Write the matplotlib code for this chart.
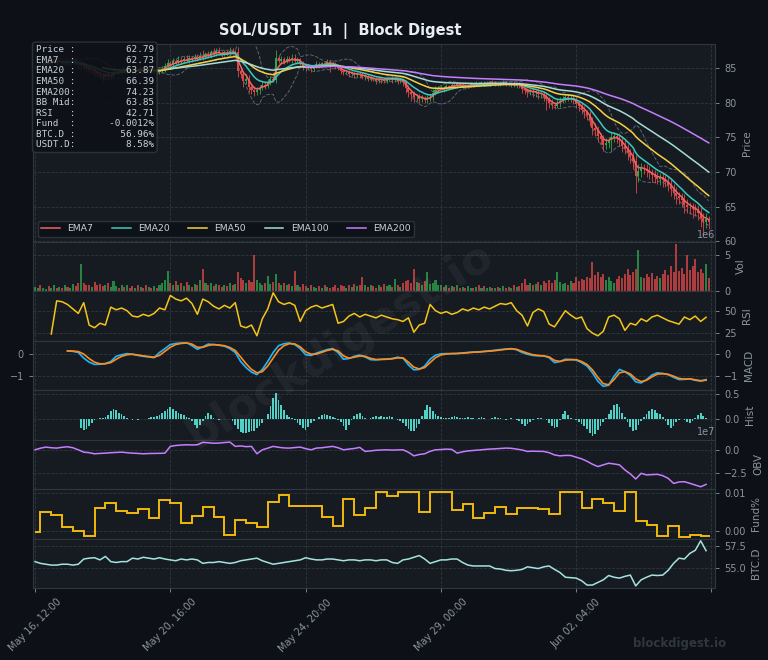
import numpy as np
import pandas as pd
import matplotlib
matplotlib.use("Agg")
import matplotlib.pyplot as plt

nan = float("nan")

# ---- values -------------------------------------------------------------
# 2-hour bars, hour 0 = May 16 12:00
close = [
    85.2, 85.5, 85.3, 85.7, 85.9, 85.6, 86.0, 86.2, 85.9, 86.1,
    85.8, 86.0, 85.7, 85.9, 86.2, 85.8, 85.5, 85.6, 85.2, 85.0,
    84.7, 84.9, 84.4, 84.2, 84.0, 83.7, 84.1, 83.8, 83.9, 84.4,
    84.6, 84.3, 84.7, 84.5, 84.8, 84.6, 84.4, 84.9, 84.7, 85.0,
    84.8, 84.6, 84.9, 84.5, 84.7, 84.4, 84.6, 84.9, 85.3, 85.7,
    85.5, 86.0, 85.8, 86.2, 86.0, 86.4, 86.1, 86.5, 86.3, 86.6,
    86.4, 86.8, 86.6, 87.0, 86.8, 87.3, 87.1, 87.5, 87.2, 87.0,
    87.3, 87.1, 87.5, 87.2, 87.4, 84.6, 84.2, 83.2, 83.5, 82.3,
    81.9, 81.5, 81.8, 82.2, 82.6, 82.4, 83.0, 83.4, 83.3, 86.5,
    86.0, 86.3, 85.9, 86.4, 86.2, 86.5, 86.1, 86.3, 85.8, 85.3,
    85.0, 85.2, 84.9, 85.3, 85.6, 85.4, 85.7, 85.5, 85.9, 85.8,
    85.6, 85.3, 85.0, 84.6, 84.4, 84.5, 84.2, 84.3, 84.0, 84.2,
    84.0, 83.8, 83.9, 83.5, 83.6, 83.4, 83.2, 83.5, 83.3, 83.2,
    83.4, 83.6, 83.3, 83.5, 83.2, 83.4, 83.0, 82.2, 81.5, 81.2,
    80.8, 80.9, 80.5, 80.7, 80.4, 80.6, 80.8, 81.4, 81.9, 82.1,
    82.2, 82.0, 82.4, 82.3, 82.6, 82.4, 82.7, 82.5, 82.6, 82.4,
    82.5, 82.7, 82.6, 82.8, 82.7, 82.9, 82.7, 82.8, 83.0, 82.8,
    82.9, 82.7, 82.8, 83.0, 82.7, 82.6, 82.8, 82.5, 82.7, 82.6,
    82.0, 81.8, 81.5, 81.7, 81.4, 81.6, 81.2, 81.3, 80.9, 80.5,
    80.0, 79.7, 79.6, 79.9, 80.3, 80.6, 80.8, 80.6, 80.7, 80.4,
    79.8, 79.5, 79.0, 78.6, 78.2, 77.5, 76.4, 76.0, 75.2, 74.8,
    73.9, 74.2, 74.6, 75.0, 75.2, 74.9, 74.6, 73.8, 73.3, 72.7,
    72.2, 71.6, 69.4, 70.1, 70.6, 70.4, 70.1, 69.8, 69.5, 69.3,
    69.0, 69.2, 68.8, 68.6, 68.1, 67.6, 67.0, 66.5, 66.2, 66.0,
    65.2, 65.0, 64.9, 64.6, 64.5, 64.1, 63.4, 62.8, 63.2, 62.79,
]

# wick lengths above / below the candle body
up_wick = [
    0.2, 0.3, 0.2, 0.4, 0.3, 0.2, 0.3, 0.4, 0.2, 0.3,
    0.3, 0.2, 0.4, 0.3, 0.2, 0.3, 0.2, 0.5, 0.3, 0.2,
    0.3, 0.2, 0.3, 0.2, 0.4, 0.3, 0.2, 0.3, 0.2, 0.4,
    0.2, 0.3, 0.2, 0.3, 0.2, 0.3, 0.4, 0.2, 0.3, 0.2,
    0.3, 0.2, 0.3, 0.2, 0.3, 0.2, 0.3, 0.4, 0.5, 0.7,
    0.4, 0.5, 0.3, 0.6, 0.4, 0.3, 0.5, 0.4, 0.3, 0.5,
    0.4, 0.6, 0.8, 0.4, 0.5, 0.3, 0.6, 0.4, 0.5, 0.3,
    0.4, 0.3, 0.5, 0.4, 0.3, 0.6, 0.5, 0.4, 0.6, 0.5,
    0.4, 0.6, 0.5, 0.4, 0.6, 0.5, 0.4, 0.5, 0.4, 1.1,
    0.4, 0.5, 0.3, 0.4, 0.3, 0.5, 0.6, 0.3, 0.2, 0.3,
    0.3, 0.2, 0.3, 0.2, 0.4, 0.3, 0.2, 0.3, 0.4, 0.3,
    0.2, 0.3, 0.2, 0.3, 0.2, 0.3, 0.2, 0.3, 0.2, 0.3,
    0.2, 0.4, 0.3, 0.2, 0.3, 0.2, 0.3, 0.2, 0.3, 0.2,
    0.3, 0.2, 0.3, 0.4, 0.2, 0.3, 0.2, 0.3, 0.4, 0.3,
    0.5, 0.4, 0.3, 0.4, 0.3, 0.5, 0.4, 0.6, 0.5, 0.4,
    0.3, 0.2, 0.3, 0.2, 0.3, 0.2, 0.3, 0.2, 0.3, 0.2,
    0.2, 0.3, 0.2, 0.3, 0.2, 0.3, 0.2, 0.3, 0.2, 0.3,
    0.2, 0.3, 0.2, 0.3, 0.2, 0.3, 0.2, 0.3, 0.2, 0.3,
    0.4, 0.3, 0.4, 0.3, 0.5, 0.3, 0.4, 0.3, 0.4, 0.5,
    0.4, 0.5, 0.4, 0.6, 0.5, 0.4, 0.5, 0.4, 0.5, 0.4,
    0.5, 0.4, 0.6, 0.5, 0.4, 0.6, 0.5, 0.7, 0.6, 0.5,
    0.6, 0.7, 0.5, 0.8, 0.6, 0.5, 0.7, 0.6, 0.8, 0.7,
    0.6, 0.8, 0.9, 1.0, 0.7, 0.6, 0.8, 0.7, 0.6, 0.8,
    0.7, 0.6, 0.8, 0.7, 0.6, 0.9, 0.7, 0.8, 0.6, 0.7,
    0.8, 0.9, 0.7, 0.6, 0.8, 0.7, 0.9, 0.6, 0.8, 0.5,
]
dn_wick = [
    0.3, 0.2, 0.3, 0.2, 0.4, 0.3, 0.2, 0.3, 0.4, 0.2,
    0.2, 0.3, 0.2, 0.4, 0.3, 0.2, 0.4, 0.6, 0.3, 0.4,
    0.3, 0.4, 0.5, 0.3, 0.4, 0.6, 0.3, 0.5, 0.4, 0.3,
    0.3, 0.2, 0.3, 0.2, 0.3, 0.2, 0.3, 0.2, 0.3, 0.2,
    0.2, 0.3, 0.2, 0.3, 0.2, 0.3, 0.2, 0.3, 0.4, 0.3,
    0.3, 0.4, 0.3, 0.2, 0.4, 0.3, 0.2, 0.3, 0.4, 0.3,
    0.3, 0.2, 0.4, 0.3, 0.2, 0.3, 0.4, 0.3, 0.2, 0.4,
    0.3, 0.4, 0.3, 0.2, 0.3, 0.8, 0.6, 0.9, 0.5, 0.7,
    0.6, 0.5, 0.4, 0.5, 0.3, 0.4, 0.3, 0.4, 0.3, 0.4,
    0.3, 0.4, 0.3, 0.2, 0.3, 0.4, 0.3, 0.5, 0.4, 0.6,
    0.4, 0.3, 0.5, 0.3, 0.2, 0.3, 0.2, 0.3, 0.2, 1.3,
    0.3, 0.4, 0.3, 0.5, 0.4, 0.3, 0.5, 0.3, 0.4, 0.3,
    0.4, 0.3, 0.5, 0.3, 0.4, 0.3, 0.5, 0.3, 0.4, 0.3,
    0.3, 0.2, 0.4, 0.3, 0.5, 0.3, 0.6, 0.8, 0.7, 0.9,
    0.7, 0.5, 0.6, 0.4, 0.5, 0.4, 0.3, 0.4, 0.3, 0.4,
    0.3, 0.4, 0.3, 0.2, 0.3, 0.2, 0.3, 0.2, 0.3, 0.2,
    0.3, 0.2, 0.3, 0.2, 0.3, 0.2, 0.3, 0.2, 0.3, 0.2,
    0.3, 0.2, 0.3, 0.2, 0.3, 0.2, 0.3, 0.2, 0.3, 0.4,
    0.6, 0.5, 0.7, 0.4, 0.6, 0.5, 0.7, 0.5, 0.6, 1.6,
    0.7, 0.6, 0.5, 0.4, 0.5, 0.4, 0.5, 0.4, 0.5, 0.6,
    0.6, 0.7, 0.6, 0.8, 0.7, 0.9, 1.0, 0.8, 0.9, 0.7,
    0.9, 0.6, 0.8, 1.5, 0.6, 0.7, 0.8, 0.9, 0.7, 1.0,
    0.9, 1.1, 2.5, 0.9, 0.8, 0.7, 0.9, 0.8, 1.0, 0.9,
    0.8, 0.9, 1.0, 0.8, 0.9, 1.1, 0.9, 1.2, 0.8, 1.0,
    1.1, 0.9, 1.0, 1.2, 0.9, 1.0, 1.3, 2.0, 0.9, 1.0,
]

# volume per bar, millions
volume_m = [
    0.6, 0.4, 0.8, 0.5, 0.3, 0.7, 0.5, 0.9, 0.4, 0.6,
    0.5, 0.8, 0.6, 0.4, 1.0, 0.7, 1.2, 3.7, 1.1, 0.8,
    0.9, 0.6, 1.3, 0.8, 1.0, 0.7, 0.9, 1.1, 0.6, 1.4,
    0.7, 0.5, 0.9, 0.6, 0.8, 0.5, 0.7, 0.4, 0.9, 0.6,
    0.5, 0.8, 0.6, 0.4, 0.7, 0.5, 0.9, 1.1, 1.5, 2.8,
    1.2, 0.9, 1.4, 0.8, 1.1, 0.7, 1.3, 0.9, 0.6, 1.0,
    0.8, 1.6, 3.0, 1.2, 0.9, 1.1, 0.7, 1.0, 0.8, 0.6,
    0.9, 0.7, 1.1, 0.8, 1.0, 2.7, 1.8, 1.5, 1.2, 1.6,
    1.3, 4.9, 1.6, 1.2, 0.9, 1.1, 2.1, 1.0, 1.3, 2.4,
    1.2, 0.9, 1.1, 0.8, 1.0, 0.7, 2.8, 0.9, 0.6, 1.0,
    0.7, 0.5, 0.8, 0.6, 0.4, 0.7, 0.5, 0.9, 0.6, 0.4,
    0.6, 0.8, 0.5, 0.9, 0.7, 0.5, 0.8, 0.6, 1.0, 0.7,
    0.9, 1.9, 0.8, 0.6, 0.9, 0.7, 0.5, 0.8, 0.6, 1.0,
    0.7, 0.9, 0.6, 1.7, 0.8, 0.6, 1.1, 1.4, 1.6, 1.2,
    3.0, 1.3, 1.1, 0.9, 1.4, 2.7, 1.0, 1.2, 1.5, 0.9,
    0.8, 0.6, 0.9, 0.5, 0.7, 0.6, 0.8, 0.4, 0.6, 0.5,
    0.7, 0.5, 0.4, 0.6, 0.8, 0.5, 0.7, 0.4, 0.6, 0.5,
    0.4, 0.6, 0.5, 0.7, 0.4, 0.6, 0.5, 0.8, 0.6, 0.7,
    1.1, 1.7, 0.9, 1.2, 0.8, 1.0, 1.3, 0.9, 1.4, 1.1,
    1.5, 1.2, 1.6, 2.7, 1.3, 1.0, 1.2, 0.9, 1.4, 1.1,
    1.9, 1.4, 1.7, 1.5, 2.0, 1.8, 4.0, 2.2, 2.6, 1.9,
    2.3, 1.6, 1.9, 1.4, 1.2, 1.7, 2.1, 1.8, 2.4, 3.0,
    2.2, 2.6, 3.1, 5.7, 2.0, 1.8, 2.3, 1.9, 2.5, 1.7,
    2.1, 1.8, 2.4, 2.9, 2.2, 3.4, 2.6, 6.45, 2.8, 3.2,
    2.4, 5.0, 2.9, 3.5, 4.4, 2.7, 3.1, 2.5, 3.7, 1.8,
]

# MACD histogram, 2-hour bars
hist = [nan] * 17 + [
    -0.18, -0.22, -0.20,
    -0.14, -0.08, -0.03, -0.01, 0.01, 0.02, 0.03, 0.08, 0.15, 0.20,
    0.17, 0.12, 0.09, 0.05, 0.02, -0.01, -0.02, -0.01, -0.02, -0.01,
    -0.01, 0.00, 0.01, 0.03, 0.04, 0.05, 0.08, 0.12, 0.16, 0.20,
    0.23, 0.20, 0.16, 0.12, 0.10, 0.07, 0.04, 0.02, -0.04, -0.12,
    -0.18, -0.12, -0.05, 0.05, 0.12, 0.08, 0.02, -0.01, -0.02, -0.01,
    0.00, -0.01, 0.00, -0.05, -0.12, -0.20, -0.26, -0.28, -0.27, -0.25,
    -0.24, -0.23, -0.18, -0.13, -0.08, -0.01, 0.10, 0.25, 0.42, 0.51,
    0.38, 0.28, 0.18, 0.08, 0.04, 0.01, -0.03, -0.08, -0.12, -0.17,
    -0.21, -0.15, -0.08, -0.04, 0.00, 0.04, 0.08, 0.09, 0.07, 0.05,
    0.04, 0.02, -0.02, -0.06, -0.14, -0.21, -0.12, -0.02, 0.06, 0.10,
    0.12, 0.06, 0.02, 0.00, 0.02, 0.04, 0.05, 0.04, 0.05, 0.04,
    0.03, 0.05, 0.03, 0.00, -0.03, -0.05, -0.08, -0.14, -0.20, -0.24,
    -0.24, -0.18, -0.10, 0.05, 0.18, 0.28, 0.24, 0.15, 0.10, 0.06,
    0.04, 0.02, 0.01, 0.02, 0.04, 0.05, 0.04, 0.02, 0.01, 0.02,
    0.03, 0.02, 0.01, -0.01, 0.02, 0.03, 0.02, 0.00, -0.01, 0.02,
    0.03, 0.02, 0.01, 0.00, -0.02, -0.01, 0.01, 0.00, -0.02, -0.05,
    -0.10, -0.14, -0.10, -0.06, -0.02, 0.00, 0.01, 0.02, 0.00, -0.03,
    -0.08, -0.14, -0.18, -0.15, -0.02, 0.10, 0.15, 0.08, 0.02, -0.01,
    -0.03, -0.06, -0.10, -0.14, -0.20, -0.28, -0.34, -0.30, -0.22, -0.14,
    -0.06, 0.02, 0.09, 0.18, 0.27, 0.30, 0.24, 0.12, 0.04, -0.06,
    -0.15, -0.24, -0.22, -0.12, -0.05, 0.03, 0.10, 0.16, 0.20, 0.17,
    0.12, 0.09, 0.03, -0.05, -0.12, -0.18, -0.14, -0.07, -0.02, 0.00,
    -0.03, -0.06, -0.08, -0.04, 0.02, 0.08, 0.12, 0.06, 0.02, 0.00,
]

# 4-hour samples
rsi = [
    nan, nan, nan, 24, 61, 60, 57, 52, 47, 59,
    34, 31, 36, 34, 54, 51, 53, 50, 44, 43,
    46, 44, 47, 53, 51, 67, 63, 61, 64, 58,
    46, 63, 60, 55, 52, 56, 53, 59, 33, 31,
    34, 22, 41, 52, 70, 60, 57, 59, 56, 38,
    50, 54, 56, 53, 55, 57, 36, 38, 44, 47,
    43, 46, 44, 42, 45, 43, 41, 40, 38, 42,
    26, 34, 36, 57, 50, 47, 49, 46, 48, 52,
    50, 53, 51, 54, 52, 55, 58, 57, 59, 50,
    45, 33, 48, 52, 49, 35, 32, 41, 50, 45,
    41, 43, 30, 25, 22, 27, 43, 45, 41, 28,
    36, 34, 41, 38, 43, 45, 42, 39, 37, 35,
    43, 40, 44, 38, 42.7,
]

macd = [nan] * 6 + [
    0.12, 0.10, 0.05, -0.20,
    -0.38, -0.48, -0.47, -0.44, -0.35, -0.12, -0.05, 0.00, -0.03, -0.08,
    -0.12, -0.15, -0.18, 0.05, 0.22, 0.40, 0.45, 0.47, 0.49, 0.35,
    0.19, 0.30, 0.42, 0.40, 0.37, 0.33, 0.22, 0.05, -0.35, -0.62,
    -0.82, -0.93, -0.70, -0.35, 0.05, 0.35, 0.44, 0.47, 0.40, 0.22,
    -0.05, -0.08, 0.02, 0.10, 0.18, 0.22, 0.05, -0.25, -0.22, -0.12,
    -0.07, -0.15, -0.27, -0.28, -0.25, -0.24, -0.22, -0.16, -0.20, -0.50,
    -0.72, -0.70, -0.55, -0.25, -0.07, -0.01, 0.00, 0.00, 0.01, 0.03,
    0.05, 0.07, 0.08, 0.10, 0.12, 0.15, 0.18, 0.20, 0.22, 0.17,
    0.05, -0.03, -0.08, -0.10, -0.10, -0.18, -0.40, -0.35, -0.25, -0.26,
    -0.28, -0.40, -0.55, -0.85, -1.22, -1.45, -1.40, -1.00, -0.70, -0.80,
    -0.97, -1.25, -1.30, -1.15, -0.95, -0.85, -0.88, -0.93, -1.05, -1.15,
    -1.14, -1.12, -1.18, -1.22, -1.15,
]

signal = [nan] * 6 + [
    0.12, 0.11, 0.09, -0.02,
    -0.22, -0.38, -0.45, -0.45, -0.40, -0.25, -0.12, -0.05, -0.03, -0.06,
    -0.10, -0.13, -0.16, -0.08, 0.10, 0.28, 0.40, 0.45, 0.47, 0.42,
    0.28, 0.28, 0.36, 0.40, 0.38, 0.35, 0.27, 0.14, -0.15, -0.45,
    -0.70, -0.85, -0.80, -0.55, -0.20, 0.15, 0.35, 0.44, 0.43, 0.30,
    0.08, -0.03, -0.02, 0.06, 0.14, 0.19, 0.12, -0.10, -0.20, -0.16,
    -0.10, -0.12, -0.21, -0.26, -0.26, -0.25, -0.23, -0.19, -0.19, -0.38,
    -0.60, -0.68, -0.62, -0.40, -0.18, -0.06, -0.02, 0.00, 0.00, 0.02,
    0.04, 0.06, 0.07, 0.09, 0.11, 0.13, 0.16, 0.19, 0.21, 0.19,
    0.10, 0.02, -0.05, -0.08, -0.10, -0.15, -0.30, -0.35, -0.29, -0.27,
    -0.27, -0.35, -0.48, -0.72, -1.05, -1.33, -1.38, -1.15, -0.85, -0.80,
    -0.90, -1.12, -1.24, -1.18, -1.03, -0.91, -0.89, -0.92, -1.00, -1.10,
    -1.13, -1.12, -1.16, -1.20, -1.18,
]

# on-balance volume, units of 1e7
obv_e7 = [
    0.07, 0.25, 0.37, 0.30, 0.26, 0.35, 0.41, 0.30, 0.07, -0.19,
    -0.25, -0.37, -0.33, -0.30, -0.25, -0.22, -0.19, -0.25, -0.30, -0.33,
    -0.37, -0.34, -0.33, -0.32, -0.30, 0.45, 0.55, 0.60, 0.63, 0.61,
    0.63, 0.90, 0.85, 0.80, 0.82, 0.88, 0.93, 0.45, 0.50, 0.42,
    0.45, -0.37, 0.07, 0.25, 0.45, 0.35, 0.28, 0.26, 0.32, 0.37,
    0.20, 0.07, 0.26, 0.30, 0.38, 0.45, 0.30, 0.07, 0.15, 0.22,
    0.34, -0.11, -0.05, 0.02, 0.05, 0.07, 0.04, 0.06, 0.07, -0.20,
    -0.60, -0.45, -0.37, -0.10, 0.07, 0.10, 0.15, 0.12, -0.30, -0.15,
    -0.05, 0.00, 0.05, 0.10, 0.15, 0.18, 0.22, 0.26, 0.24, 0.15,
    0.05, -0.11, -0.08, -0.10, -0.11, -0.25, -0.50, -0.60, -0.55, -0.56,
    -0.75, -0.93, -1.20, -1.53, -1.79, -1.60, -1.42, -1.50, -1.60, -2.16,
    -2.60, -3.17, -2.54, -2.72, -2.68, -2.65, -2.80, -3.10, -3.66, -3.50,
    -3.47, -3.65, -3.84, -4.03, -3.77,
]

btc_d = [
    55.7, 55.5, 55.4, 55.3, 55.3, 55.4, 55.4, 55.3, 55.4, 56.0,
    56.1, 56.15, 55.9, 56.3, 55.7, 55.6, 55.7, 55.7, 56.1, 56.0,
    56.2, 56.1, 56.0, 56.15, 56.0, 55.9, 55.8, 56.0, 55.9, 56.0,
    55.9, 55.5, 55.6, 55.6, 55.7, 55.6, 55.5, 55.6, 55.8, 55.9,
    56.0, 56.1, 55.8, 55.6, 55.4, 55.5, 55.6, 55.7, 55.8, 55.9,
    56.15, 56.0, 55.9, 55.9, 56.0, 56.0, 55.9, 55.8, 55.9, 55.9,
    55.8, 55.9, 55.9, 55.8, 55.9, 55.9, 55.6, 55.5, 55.9, 56.0,
    56.2, 56.4, 56.0, 55.5, 55.7, 55.9, 55.9, 56.0, 56.0, 55.6,
    55.3, 55.2, 55.2, 55.2, 55.2, 54.9, 54.85, 54.7, 54.65, 54.7,
    54.8, 55.1, 55.0, 54.9, 55.1, 55.2, 54.8, 54.45, 53.9, 53.85,
    53.8, 53.5, 53.0, 53.0, 53.3, 53.6, 54.1, 53.9, 53.8, 54.0,
    54.15, 52.9, 53.6, 53.9, 54.15, 54.1, 54.15, 54.7, 55.5, 56.1,
    56.0, 56.65, 57.0, 58.1, 56.96,
]

# funding rate (%), changes every 8h (16:00 / 00:00 / 08:00)
funding = [
    -0.0002, 0.0050, 0.0041, 0.0011, 0.0001, -0.0012, 0.0059, 0.0073,
    0.0053, 0.0048, 0.0057, 0.0033, 0.0082, 0.0072, 0.0020, 0.0040,
    0.0063, 0.0037, -0.0010, 0.0030, 0.0020, 0.0011, 0.0076, 0.0093,
    0.0065, 0.0065, 0.0065, 0.0037, 0.0014, 0.0083, 0.0043, 0.0060,
    0.0102, 0.0091, 0.0102, 0.0102, 0.0050, 0.0102, 0.0102, 0.0054,
    0.0070, 0.0034, 0.0047, 0.0063, 0.0044, 0.0059, 0.0060, 0.0057,
    0.0044, 0.0102, 0.0102, 0.0060, 0.0084, 0.0073, 0.0052, 0.0102,
    0.0026, 0.0016, -0.0012, 0.0013, -0.0015, -0.0010, -0.0012,
]

info_names = ["Price", "EMA7", "EMA20", "EMA50", "EMA200", "BB Mid",
              "RSI", "Fund", "BTC.D", "USDT.D"]
info_vals = ["62.79", "62.73", "63.87", "66.39", "74.23", "63.85",
             "42.71", "-0.0012%", "56.96%", "8.58%"]

tick_hours = [0, 100, 200, 300, 400, 500]
tick_labels = ["May 16, 12:00", "May 20, 16:00", "May 24, 20:00",
               "May 29, 00:00", "Jun 02, 04:00", ""]

ema_spans = [7, 20, 50, 100, 200]
ema_colors = ["#f06464", "#3cc8bd", "#f5d142", "#a6dcd8", "#c77dff"]

# ---- styling --------------------------------------------------------------
BG = "#0d1117"
PANEL = "#161b22"
GRID = "#30363d"
TXT = "#8b949e"
UP = "#2fa84f"
DN = "#e04848"

c = np.array(close)
o = np.r_[c[0], c[:-1]]
hi = np.maximum(o, c) + np.array(up_wick)
lo = np.minimum(o, c) - np.array(dn_wick)
h2 = np.arange(len(c)) * 2
h4 = np.arange(len(rsi)) * 4
col = np.where(c >= o, UP, DN)
s = pd.Series(c)

fig = plt.figure(figsize=(7.68, 6.6), dpi=100, facecolor=BG)
gs = fig.add_gridspec(8, 1, height_ratios=[4, 1, 1, 1, 1, 1, 1, 1], hspace=0,
                      left=33/768, right=715/768, top=1-44/660, bottom=1-588/660)
axes = [fig.add_subplot(gs[0])]
for k in range(1, 8):
    axes.append(fig.add_subplot(gs[k], sharex=axes[0]))
ax_p, ax_v, ax_r, ax_m, ax_h, ax_o, ax_f, ax_b = axes

for ax in axes:
    ax.set_facecolor(PANEL)
    for sp in ax.spines.values():
        sp.set_color(GRID)
    ax.yaxis.tick_right()
    ax.yaxis.set_label_position("right")
    ax.tick_params(colors=TXT, labelsize=7, length=3, width=0.6)
    ax.grid(True, color=GRID, ls="--", lw=0.6)
    ax.set_axisbelow(True)
    ot = ax.yaxis.get_offset_text()
    ot.set_color(TXT)
    ot.set_fontsize(7)
    if ax is not ax_b:
        ax.tick_params(axis="x", bottom=False, labelbottom=False)

# price: candles + EMAs + bollinger
body = c - o
body = np.where(np.abs(body) < 0.06, np.where(body >= 0, 0.06, -0.06), body)
ax_p.vlines(h2, lo, hi, color=col, lw=0.6, zorder=3)
ax_p.bar(h2, body, bottom=o, width=1.5, color=col, linewidth=0, zorder=3)

mid = s.rolling(10).mean()
sd = s.rolling(10).std(ddof=0)
ax_p.plot(h2, mid + 2 * sd, color="#6e7681", ls="--", lw=0.7, alpha=0.8, zorder=2)
ax_p.plot(h2, mid - 2 * sd, color="#6e7681", ls="--", lw=0.7, alpha=0.8, zorder=2)

for n, clr in zip(ema_spans, ema_colors):
    a = 1 - (1 - 2 / (n + 1)) ** 2   # hourly span on 2h bars
    e = s.ewm(alpha=a, adjust=False).mean()
    e.iloc[: n // 2] = np.nan
    ax_p.plot(h2, e, color=clr, lw=1.1, label=f"EMA{n}", zorder=4)

ax_p.set_ylim(59.9, 88.5)
ax_p.set_yticks([60, 65, 70, 75, 80, 85])
ax_p.set_ylabel("Price", color=TXT, fontsize=7.5)
leg = ax_p.legend(loc="lower left", ncol=5, fontsize=6.7, facecolor=BG,
                  edgecolor=GRID, labelcolor="#c9d1d9", framealpha=0.9)

info = "\n".join(f"{n:<6}:{v:>14}" for n, v in zip(info_names, info_vals))
ax_p.text(0.004, 0.993, info, transform=ax_p.transAxes, va="top", ha="left",
          family="DejaVu Sans Mono", fontsize=6.7, color="#c9d1d9", linespacing=1.22,
          bbox=dict(boxstyle="round,pad=0.35", fc=BG, ec=GRID, alpha=0.88), zorder=10)

# volume
ax_v.bar(h2, np.array(volume_m) * 1e6, width=1.5, color=col, alpha=0.75, linewidth=0)
ax_v.set_ylim(0, 6.77e6)
ax_v.set_yticks([0, 5e6])
ax_v.set_ylabel("Vol", color=TXT, fontsize=7.5)

# RSI
ax_r.plot(h4, rsi, color="#f5c518", lw=1.1)
ax_r.set_ylim(16.5, 71.7)
ax_r.set_yticks([25, 50])
ax_r.set_ylabel("RSI", color=TXT, fontsize=7.5)

# MACD
ax_m.plot(h4, macd, color="#1fb6ff", lw=1.2)
ax_m.plot(h4, signal, color="#ff8c1a", lw=1.2)
ax_m.set_ylim(-1.62, 0.57)
ax_m.set_yticks([-1, 0])
ax_m.tick_params(axis="y", left=True, labelleft=True)
ax_m.set_ylabel("MACD", color=TXT, fontsize=7.5)

# histogram
ax_h.bar(h2, hist, width=1.3, color="#4fd1c5", linewidth=0)
ax_h.set_ylim(-0.41, 0.57)
ax_h.set_yticks([0, 0.5])
ax_h.set_ylabel("Hist", color=TXT, fontsize=7.5)

# OBV
ax_o.plot(h4, np.array(obv_e7) * 1e7, color="#c77dff", lw=1.1)
ax_o.set_ylim(-4.29e7, 1.2e7)
ax_o.set_yticks([-2.5e7, 0])
ax_o.set_ylabel("OBV", color=TXT, fontsize=7.5)

# funding
edges = np.r_[0, np.arange(4, 500, 8), 499]
ax_f.stairs(funding, edges, baseline=None, color="#f0b90b", lw=1.4)
ax_f.set_ylim(-0.0019, 0.0109)
ax_f.set_yticks([0, 0.01])
ax_f.set_ylabel("Fund%", color=TXT, fontsize=7.5)

# BTC dominance
ax_b.plot(h4, btc_d, color="#a5e3e0", lw=1.1)
ax_b.set_ylim(52.66, 58.36)
ax_b.set_yticks([55, 57.5])
ax_b.set_ylabel("BTC.D", color=TXT, fontsize=7.5)

ax_b.set_xlim(-1.5, 502.6)
ax_b.set_xticks(tick_hours)
ax_b.set_xticklabels(tick_labels)
ax_b.tick_params(axis="x", labelrotation=45, labelsize=7)

fig.text(340/768, 1-31/660, "SOL/USDT  1h  |  Block Digest", ha="center", va="center",
         fontsize=10.5, weight="bold", color="#e6edf3")
fig.text(340/768, 1-345/660, "blockdigest.io", ha="center", va="center", rotation=32,
         fontsize=32, weight="bold", color="white", alpha=0.05)
fig.text(680/768, 1-643/660, "blockdigest.io", ha="center", va="center",
         fontsize=8.5, weight="bold", color="#30363d")

fig.savefig("out.png", dpi=100, facecolor=BG)
